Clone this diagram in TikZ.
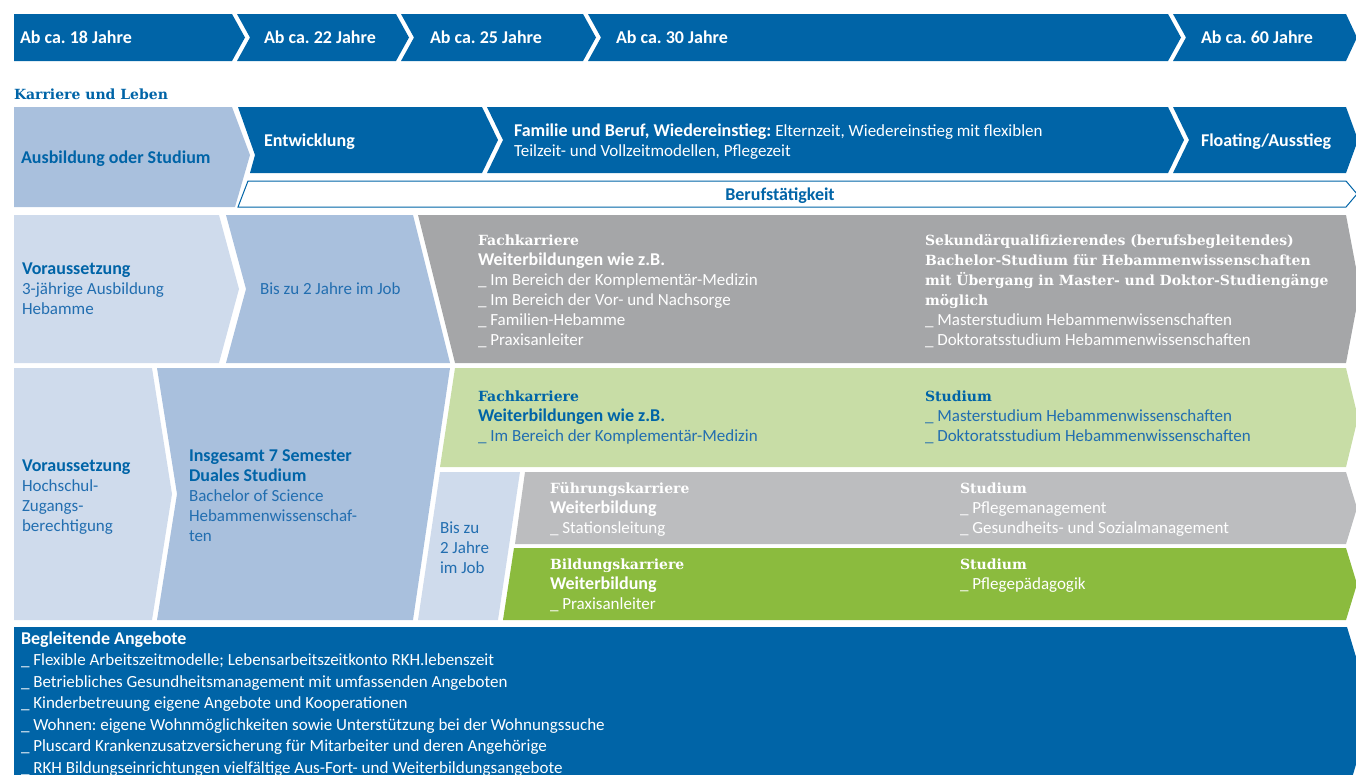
\documentclass[tikz,border=0pt]{standalone}
\usepackage{fontspec}
\setmainfont{Carlito}
\newfontfamily\serfont{DejaVu Serif}
\frenchspacing
\definecolor{dblue}{RGB}{0,100,167}
\definecolor{tblue}{RGB}{34,110,176}
\definecolor{lblue}{RGB}{207,219,236}
\definecolor{mblue}{RGB}{169,192,221}
\definecolor{dgrey}{RGB}{165,166,168}
\definecolor{lgrey}{RGB}{188,189,191}
\definecolor{lgreen}{RGB}{200,221,166}
\definecolor{dgreen}{RGB}{139,187,62}
\newcommand\sh[1]{{\serfont\bfseries\fontsize{14}{20}\selectfont #1}}
\newcommand\hb[1]{{\bfseries\fontsize{18}{20}\selectfont #1}}
\tikzset{
  txt/.style={anchor=base west, inner sep=0pt, outer sep=0pt, align=left, font=\fontsize{17}{20}\selectfont\frenchspacing},
  wtxt/.style={txt, text=white},
  btxt/.style={txt, text=tblue},
}
\begin{document}
\begin{tikzpicture}[x=1pt,y=-1pt]
\useasboundingbox (0,0) rectangle (1356,774);
\clip (0,0) rectangle (1356,774);
% top band
\fill[dblue] (14,14) -- (232,14) -- (245,37.5) -- (232,61) -- (14,61) -- cycle;
\fill[dblue] (237,14) -- (396,14) -- (409,37.5) -- (396,61) -- (237,61) -- (250,37.5) -- cycle;
\fill[dblue] (401,14) -- (583,14) -- (596,37.5) -- (583,61) -- (401,61) -- (414,37.5) -- cycle;
\fill[dblue] (588,14) -- (1168,14) -- (1181,37.5) -- (1168,61) -- (588,61) -- (601,37.5) -- cycle;
\fill[dblue] (1173,14) -- (1346,14) -- (1357,37.5) -- (1346,61) -- (1173,61) -- (1186,37.5) -- cycle;
\node[wtxt] (t1) at (20,43.5) {\hb{Ab ca. 18 Jahre}};
\node[wtxt] (t2) at (264,43.5) {\hb{Ab ca. 22 Jahre}};
\node[wtxt] (t3) at (430,43.5) {\hb{Ab ca. 25 Jahre}};
\node[wtxt] (t4) at (616,43.5) {\hb{Ab ca. 30 Jahre}};
\node[wtxt] (t5) at (1201,43.5) {\hb{Ab ca. 60 Jahre}};
% Karriere und Leben
\node[txt, text=dblue] (kl) at (14,99) {\sh{Karriere und Leben}};
\fill[mblue] (14,107) -- (232,107) -- (250,155) -- (235,207) -- (14,207) -- cycle;
\fill[dblue] (238,107) -- (482,107) -- (498,140) -- (482,173) -- (250,173) -- (255,155) -- cycle;
\fill[dblue] (487,107) -- (1168,107) -- (1184,140) -- (1168,173) -- (487,173) -- (503,140) -- cycle;
\fill[dblue] (1173,107) -- (1346,107) -- (1358,140) -- (1346,173) -- (1173,173) -- (1189,140) -- cycle;
\draw[dblue, line width=1pt, fill=white] (248,181) -- (1346,181) -- (1357,194) -- (1346,207) -- (238,207) -- cycle;
\node[txt, text=dblue] (ausb) at (21,163) {\hb{Ausbildung oder Studium}};
\node[wtxt] (entw) at (264,146) {\hb{Entwicklung}};
\node[wtxt] (fam) at (514,156) {\hb{Familie und Beruf, Wiedereinstieg:} Elternzeit, Wiedereinstieg mit flexiblen\\Teilzeit- und Vollzeitmodellen, Pflegezeit};
\node[wtxt] (flo) at (1201,146) {\hb{Floating/Ausstieg}};
\node[txt, text=dblue, anchor=base] (beruf) at (780,200) {\hb{Berufstätigkeit}};
% row 3
\fill[lblue] (14,215) -- (219,215) -- (239,289) -- (219,363) -- (14,363) -- cycle;
\fill[mblue] (226,215) -- (413,215) -- (450,363) -- (226,363) -- (246,289) -- cycle;
\fill[dgrey] (418,215) -- (1346,215) -- (1360,289) -- (1346,363) -- (455,363) -- cycle;
\node[btxt] (vor1) at (22,314) {\hb{\color{dblue}Voraussetzung}\\3-jährige Ausbildung\\Hebamme};
\node[btxt] (bis1) at (260,294) {Bis zu 2 Jahre im Job};
\node[wtxt] (fk1) at (478,345) {\sh{Fachkarriere}\\\hb{Weiterbildungen wie z.B.}\\\_ Im Bereich der Komplementär-Medizin\\\_ Im Bereich der Vor- und Nachsorge\\\_ Familien-Hebamme\\\_ Praxisanleiter};
\node[wtxt] (sek) at (925,345) {\sh{Sekundärqualifizierendes (berufsbegleitendes)}\\\sh{Bachelor-Studium für Hebammenwissenschaften}\\\sh{mit Übergang in Master- und Doktor-Studiengänge}\\\sh{möglich}\\\_ Masterstudium Hebammenwissenschaften\\\_ Doktoratsstudium Hebammenwissenschaften};
% row 4
\fill[lblue] (14,368) -- (152,368) -- (172,494) -- (152,620) -- (14,620) -- cycle;
\fill[mblue] (157,368) -- (450,368) -- (413,620) -- (157,620) -- (177,494) -- cycle;
\fill[lgreen] (455,368) -- (1346,368) -- (1358,417.5) -- (1346,467) -- (440,467) -- cycle;
\fill[lblue] (440,472) -- (520,472) -- (498,620) -- (418,620) -- cycle;
\fill[lgrey] (525,472) -- (1346,472) -- (1357,508) -- (1346,544) -- (515,544) -- cycle;
\fill[dgreen] (514,548) -- (1346,548) -- (1357,584) -- (1346,620) -- (503,620) -- cycle;
\node[btxt] (vor2) at (22,531) {\hb{\color{dblue}Voraussetzung}\\Hochschul-\\Zugangs-\\berechtigung};
\node[btxt] (ins) at (189,541) {\hb{\color{dblue}Insgesamt 7 Semester}\\\hb{\color{dblue}Duales Studium}\\Bachelor of Science\\Hebammenwissenschaf-\\ten};
\node[btxt] (fk2) at (478,441) {\sh{\color{dblue}Fachkarriere}\\\hb{\color{dblue}Weiterbildungen wie z.B.}\\\_ Im Bereich der Komplementär-Medizin};
\node[btxt] (stu2) at (925,441) {\sh{\color{dblue}Studium}\\\_ Masterstudium Hebammenwissenschaften\\\_ Doktoratsstudium Hebammenwissenschaften};
\node[btxt] (bis2) at (440,573) {Bis zu\\2 Jahre\\im Job};
\node[wtxt] (fuehr) at (550,533) {\sh{Führungskarriere}\\\hb{Weiterbildung}\\\_ Stationsleitung};
\node[wtxt] (stu3) at (960,533) {\sh{Studium}\\\_ Pflegemanagement\\\_ Gesundheits- und Sozialmanagement};
\node[wtxt] (bild) at (550,609) {\sh{Bildungskarriere}\\\hb{Weiterbildung}\\\_ Praxisanleiter};
\node[wtxt] (stu4) at (960,589) {\sh{Studium}\\\_ Pflegepädagogik};
% bottom
\fill[dblue] (14,627) -- (1347,627) -- (1372,710) -- (1347,795) -- (14,795) -- cycle;
\node[wtxt, font=\fontsize{17}{21.5}\selectfont\frenchspacing] (begl) at (21,773) {\hb{Begleitende Angebote}\\\_ Flexible Arbeitszeitmodelle; Lebensarbeitszeitkonto RKH.lebenszeit\\\_ Betriebliches Gesundheitsmanagement mit umfassenden Angeboten\\\_ Kinderbetreuung eigene Angebote und Kooperationen\\\_ Wohnen: eigene Wohnmöglichkeiten sowie Unterstützung bei der Wohnungssuche\\\_ Pluscard Krankenzusatzversicherung für Mitarbeiter und deren Angehörige\\\_ RKH Bildungseinrichtungen vielfältige Aus-Fort- und Weiterbildungsangebote};
\end{tikzpicture}
\end{document}
